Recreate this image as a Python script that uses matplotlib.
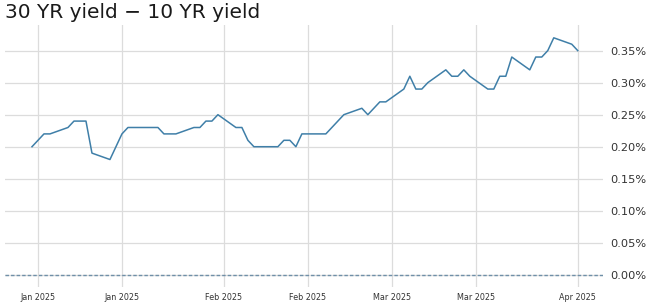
import matplotlib
matplotlib.use("Agg")
import matplotlib.pyplot as plt
import matplotlib.dates as mdates
from matplotlib.ticker import FuncFormatter
import pandas as pd

dates = [
    "2024-12-31", "2025-01-02", "2025-01-03", "2025-01-06", "2025-01-07", "2025-01-08",
    "2025-01-09", "2025-01-10", "2025-01-13", "2025-01-14", "2025-01-15", "2025-01-16",
    "2025-01-17", "2025-01-21", "2025-01-22", "2025-01-23", "2025-01-24", "2025-01-27",
    "2025-01-28", "2025-01-29", "2025-01-30", "2025-01-31", "2025-02-03", "2025-02-04",
    "2025-02-05", "2025-02-06", "2025-02-07", "2025-02-10", "2025-02-11", "2025-02-12",
    "2025-02-13", "2025-02-14", "2025-02-18", "2025-02-19", "2025-02-20", "2025-02-21",
    "2025-02-24", "2025-02-25", "2025-02-26", "2025-02-27", "2025-02-28", "2025-03-03",
    "2025-03-04", "2025-03-05", "2025-03-06", "2025-03-07", "2025-03-10", "2025-03-11",
    "2025-03-12", "2025-03-13", "2025-03-14", "2025-03-17", "2025-03-18", "2025-03-19",
    "2025-03-20", "2025-03-21", "2025-03-24", "2025-03-25", "2025-03-26", "2025-03-27",
    "2025-03-28", "2025-03-31", "2025-04-01",
]
spread = [
    0.20, 0.22, 0.22, 0.23, 0.24, 0.24,
    0.24, 0.19, 0.18, 0.20, 0.22, 0.23,
    0.23, 0.23, 0.22, 0.22, 0.22, 0.23,
    0.23, 0.24, 0.24, 0.25, 0.23, 0.23,
    0.21, 0.20, 0.20, 0.20, 0.21, 0.21,
    0.20, 0.22, 0.22, 0.23, 0.24, 0.25,
    0.26, 0.25, 0.26, 0.27, 0.27, 0.29,
    0.31, 0.29, 0.29, 0.30, 0.32, 0.31,
    0.31, 0.32, 0.31, 0.29, 0.29, 0.31,
    0.31, 0.34, 0.32, 0.34, 0.34, 0.35,
    0.37, 0.36, 0.35,
]
tick_dates = ["2025-01-01", "2025-01-15", "2025-02-01", "2025-02-15",
              "2025-03-01", "2025-03-15", "2025-04-01"]

x = pd.to_datetime(dates)
fig = plt.figure(figsize=(6.52, 3.05), dpi=100)
ax = fig.add_axes([5/652, 1 - 287/305, 598/652, 262/305])

ax.plot(x, spread, color="#3f7fa8", lw=1.1)
ax.axhline(0, color="#6f8fa8", lw=1.0, ls=(0, (2.5, 1.5)))

ax.set_xlim(pd.Timestamp("2024-12-26 12:00"), pd.Timestamp("2025-04-05 05:00"))
ax.set_ylim(-0.019, 0.39)

ax.set_xticks(pd.to_datetime(tick_dates))
ax.xaxis.set_major_formatter(mdates.DateFormatter("%b %Y"))
ax.set_yticks([0.0, 0.05, 0.10, 0.15, 0.20, 0.25, 0.30, 0.35])
ax.yaxis.set_major_formatter(FuncFormatter(lambda v, p: f"{v:.2f}%"))
ax.yaxis.tick_right()

ax.grid(True, color="#dcdcdc", lw=0.9)
ax.set_axisbelow(True)
for s in ax.spines.values():
    s.set_visible(False)
ax.tick_params(axis="x", length=0, labelsize=5.8, colors="#333333", pad=4)
ax.tick_params(axis="y", length=0, labelsize=8.2, colors="#333333", pad=5)

fig.text(5/652, 1 - 3/305, "30 YR yield \u2212 10 YR yield", fontsize=14.5,
         ha="left", va="top", color="#1a1a1a")

fig.savefig("out.png", dpi=100)
